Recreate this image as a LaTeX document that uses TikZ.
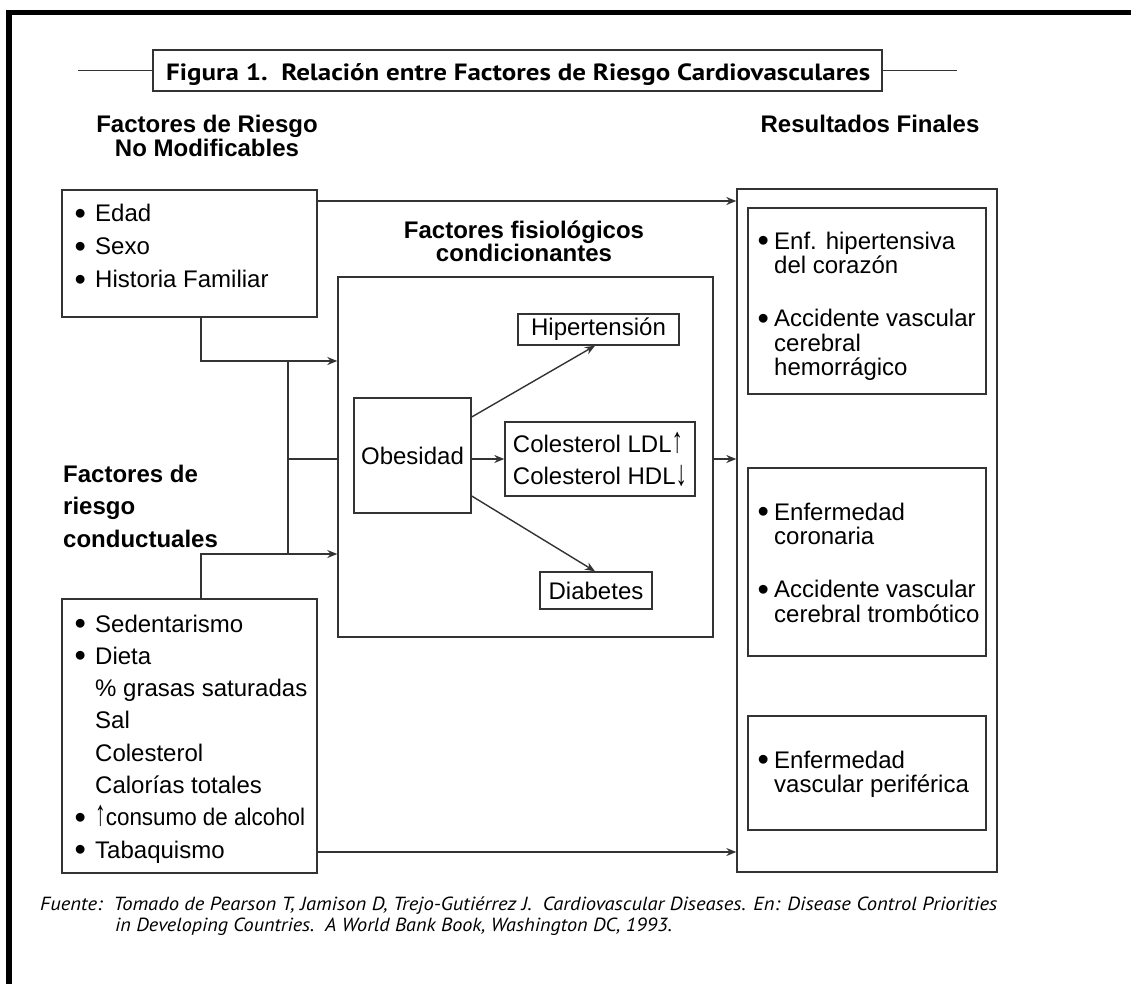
\documentclass[tikz,border=0pt]{standalone}
\usepackage{fontspec}
\setmainfont{Liberation Sans}
\newfontfamily\titlefont{PT Sans}
\usetikzlibrary{arrows.meta}
\newcommand{\Lbox}[2]{\parbox[t]{#1}{\raggedright #2}}
\newcommand{\Cbox}[2]{\parbox[t]{#1}{\centering #2}}
\newcommand{\dotb}{\raisebox{-2.6pt}{\scalebox{1.35}{•}}}
\newcommand{\bu}{\makebox[20.5pt][l]{\dotb}}
\newcommand{\nb}{\hspace*{20.5pt}}
\newcommand{\rb}{\makebox[16.5pt][l]{\dotb}}
\newcommand{\rn}{\hspace*{16.5pt}}
\newcommand{\upa}{\scalebox{0.95}[1.5]{↑}}
\newcommand{\dna}{\raisebox{-1pt}{\scalebox{0.95}[1.5]{↓}}}
\begin{document}
\begin{tikzpicture}[x=1pt,y=-1pt,
  box/.style={draw=black!80, line width=1.4pt, inner sep=0pt, rectangle},
  conn/.style={draw=black!80, line width=1.4pt},
  arr/.style={conn, -{Stealth[length=10pt,width=8pt]}},
  ltext/.style={inner sep=0pt, anchor=base west},
  ctext/.style={inner sep=0pt, anchor=base},
  body/.style={font=\fontsize{24}{24}\selectfont},
  head/.style={font=\bfseries\fontsize{24}{24}\selectfont},
]
\useasboundingbox (0,0) rectangle (1131,984);
% frame
\draw[line width=5.5pt, black] (9,984) -- (9,12.5) -- (1131,12.5);

% title
\node[box, minimum width=729pt, minimum height=41pt] (tbox) at (517.5,70.5) {};
\node[ltext, font=\titlefont\bfseries\fontsize{23.5}{23.5}\selectfont] (ttext) at (166,81)
  {\resizebox{704pt}{\height}{Figura 1.\ \ Relación entre Factores de Riesgo Cardiovasculares}};
\draw[conn] (tbox.west) -- ++(-74,0);
\draw[conn] (tbox.east) -- ++(74,0);

% headers
\node[ctext, font=\bfseries\fontsize{24}{24}\selectfont] (hnm) at (207,133)
  {\Cbox{320pt}{Factores de Riesgo\\No Modificables}};
\node[ctext, head] (hres) at (870,133) {Resultados Finales};
\node[ctext, font=\bfseries\fontsize{24}{24}\selectfont] (hfis) at (524,238)
  {\Cbox{320pt}{Factores fisiológicos\\condicionantes}};
\node[ltext, font=\bfseries\fontsize{24}{32.5}\selectfont] (hcon) at (63,482)
  {\Lbox{240pt}{Factores de\\riesgo\\conductuales}};

% left boxes
\node[box, minimum width=255pt, minimum height=127pt] (nomod) at (189.5,253.5) {};
\node[ltext, font=\fontsize{24}{33}\selectfont] (nomodt) at (74.5,222)
  {\Lbox{240pt}{\bu Edad\\\bu Sexo\\\bu Historia Familiar}};
\node[box, minimum width=255pt, minimum height=274pt] (cond) at (189.5,736) {};
\node[ltext, font=\fontsize{24}{32.3}\selectfont] (condt) at (74.5,632)
  {\Lbox{240pt}{\bu Sedentarismo\\\bu Dieta\\\nb\% grasas saturadas\\\nb Sal\\\nb Colesterol\\\nb Calorías totales\\\bu \resizebox{210pt}{\height}{\upa consumo de alcohol}\\\bu Tabaquismo}};

% physiological box
\node[box, minimum width=375pt, minimum height=360pt] (fisio) at (525.5,457) {};
\node[box, body, minimum width=161pt, minimum height=31pt] (hip) at (598.5,329.5) {Hipertensión};
\node[box, body, minimum width=117pt, minimum height=115pt] (obes) at (412.5,455.5) {Obesidad};
\node[box, minimum width=190pt, minimum height=74pt, align=left,
      font=\fontsize{24}{32}\selectfont] (col) at (600,459) {Colesterol LDL\upa\\Colesterol HDL\dna};
\node[box, body, minimum width=112pt, minimum height=37pt] (diab) at (596,590.5) {Diabetes};

% results
\node[box, minimum width=260pt, minimum height=683pt] (res) at (867,530.5) {};
\node[box, minimum width=238pt, minimum height=186pt] (r1) at (867,301) {};
\node[box, minimum width=238pt, minimum height=188pt] (r2) at (867,562) {};
\node[box, minimum width=238pt, minimum height=114pt] (r3) at (867,773) {};
\node[ltext, font=\fontsize{24}{24.5}\selectfont] (r1t) at (757.5,249)
  {\Lbox{230pt}{\rb Enf. hipertensiva\\\rn del corazón\\[28.5pt]\rb Accidente vascular\\\rn cerebral\\\rn hemorrágico}};
\node[ltext, font=\fontsize{24}{24.5}\selectfont] (r2t) at (757.5,520)
  {\Lbox{230pt}{\rb Enfermedad\\\rn coronaria\\[28.5pt]\rb Accidente vascular\\\rn cerebral trombótico}};
\node[ltext, font=\fontsize{24}{24.5}\selectfont] (r3t) at (757.5,768)
  {\Lbox{230pt}{\rb Enfermedad\\\rn vascular periférica}};

% connectors
\coordinate (j1) at (288,361);
\coordinate (j2) at (288,554);
\draw[arr] (nomod.east |- 0,201) -- (res.west |- 0,201);
\draw[arr] (nomod.south -| 201,0) |- (fisio.west |- j1);
\draw[conn] (j1) -- (j2);
\draw[conn] (j1 |- 0,459) -- (fisio.west |- 0,459);
\draw[arr] (cond.north -| 201,0) |- (fisio.west |- j2);
\draw[arr] (obes.east |- 0,417) -- (hip.south -| 595,0);
\draw[arr] (obes.east |- col.west) -- (col.west);
\draw[arr] (obes.east |- 0,496) -- (diab.north -| 595,0);
\draw[arr] (fisio.east |- 0,459) -- (res.west |- 0,459);
\draw[arr] (cond.east |- 0,852) -- (res.west |- 0,852);

% footer
\node[ltext, font=\titlefont\itshape\fontsize{19}{19}\selectfont] (f1) at (40,910)
  {\resizebox{957pt}{\height}{Fuente:\ \ Tomado de Pearson T, Jamison D, Trejo-Gutiérrez J.\ \ Cardiovascular Diseases. En: Disease Control Priorities}};
\node[ltext, font=\titlefont\itshape\fontsize{19}{19}\selectfont] (f2) at (115,931)
  {\resizebox{557pt}{\height}{in Developing Countries.\ \ A World Bank Book, Washington DC, 1993.}};
\end{tikzpicture}
\end{document}
